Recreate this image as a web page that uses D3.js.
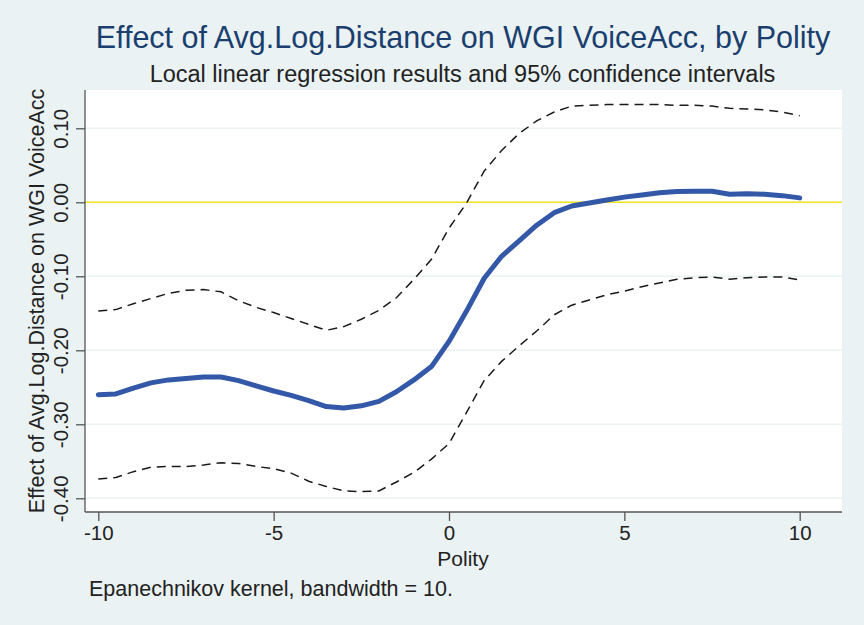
<!DOCTYPE html>
<html>
<head>
<meta charset="utf-8">
<script src="https://cdn.jsdelivr.net/npm/d3@7"></script>
<style>
  body { margin: 0; background: #eaf2f3; }
  text { font-family: "Liberation Sans", Arial, Helvetica, sans-serif; fill: #222; }
</style>
</head>
<body>
<div id="chart"></div>
<script>
// polity grid and local linear fits
var polity = [-10, -9.5, -9, -8.5, -8, -7.5, -7, -6.5, -6, -5.5, -5, -4.5, -4, -3.5, -3, -2.5, -2, -1.5, -1, -0.5,
              0, 0.5, 1, 1.5, 2, 2.5, 3, 3.5, 4, 4.5, 5, 5.5, 6, 6.5, 7, 7.5, 8, 8.5, 9, 9.5, 10];
var effect = [-0.260, -0.259, -0.251, -0.244, -0.240, -0.238, -0.236, -0.236, -0.241, -0.248, -0.255, -0.261, -0.268, -0.276, -0.278, -0.275, -0.269, -0.256, -0.240, -0.222,
              -0.188, -0.147, -0.103, -0.073, -0.052, -0.031, -0.014, -0.005, -0.001, 0.003, 0.007, 0.010, 0.013, 0.0145, 0.015, 0.015, 0.011, 0.0115, 0.011, 0.009, 0.006];
var upperCI = [-0.147, -0.145, -0.137, -0.130, -0.123, -0.119, -0.118, -0.121, -0.133, -0.142, -0.149, -0.157, -0.165, -0.173, -0.168, -0.158, -0.146, -0.129, -0.104, -0.077,
               -0.035, -0.001, 0.042, 0.070, 0.093, 0.110, 0.122, 0.130, 0.131, 0.132, 0.132, 0.132, 0.132, 0.131, 0.131, 0.130, 0.127, 0.126, 0.125, 0.122, 0.117];
var lowerCI = [-0.374, -0.372, -0.364, -0.358, -0.357, -0.357, -0.355, -0.352, -0.353, -0.357, -0.360, -0.366, -0.377, -0.384, -0.390, -0.391, -0.390, -0.378, -0.365, -0.347,
               -0.326, -0.284, -0.241, -0.215, -0.194, -0.174, -0.152, -0.139, -0.132, -0.125, -0.120, -0.114, -0.109, -0.104, -0.102, -0.101, -0.104, -0.102, -0.101, -0.101, -0.105];
var xTicks = [-10, -5, 0, 5, 10];
var yTicks = [-0.4, -0.3, -0.2, -0.1, 0, 0.1];

var svgWidth = 864, svgHeight = 625;
var plot = { left: 85, right: 842, top: 90, bottom: 512 };

var svg = d3.select("#chart").append("svg")
    .attr("width", svgWidth)
    .attr("height", svgHeight);

svg.append("rect")
    .attr("width", svgWidth).attr("height", svgHeight)
    .attr("fill", "#eaf2f3");

// plot region
svg.append("rect")
    .attr("x", plot.left).attr("y", plot.top)
    .attr("width", plot.right - plot.left)
    .attr("height", plot.bottom - plot.top)
    .attr("fill", "#ffffff");

var x = d3.scaleLinear().domain([-10, 10]).range([98.3, 799.7]);
var y = d3.scaleLinear().domain([-0.4, 0.1]).range([498.3, 128.3]);

// grid lines
svg.append("g").selectAll("line")
    .data(yTicks)
    .enter().append("line")
    .attr("x1", plot.left).attr("x2", plot.right)
    .attr("y1", d => y(d)).attr("y2", d => y(d))
    .attr("stroke", "#eaf2f3")
    .attr("stroke-width", 1.5);

// zero reference line
svg.append("line")
    .attr("x1", plot.left).attr("x2", plot.right)
    .attr("y1", y(0)).attr("y2", y(0))
    .attr("stroke", "#f2e41c")
    .attr("stroke-width", 1.5);

// axes
var leftAxis = d3.axisLeft(y).tickValues(yTicks).tickSize(9).tickPadding(5)
    .tickFormat(d => d.toFixed(2));
var bottomAxis = d3.axisBottom(x).tickValues(xTicks).tickSize(9).tickPadding(4)
    .tickFormat(d => String(d));

var gy = svg.append("g")
    .attr("transform", `translate(${plot.left},0)`)
    .call(leftAxis);
gy.select(".domain").remove();
gy.append("line")
    .attr("x1", 0).attr("x2", 0)
    .attr("y1", plot.top).attr("y2", plot.bottom)
    .attr("stroke", "#555").attr("stroke-width", 1.3);
gy.selectAll(".tick line").attr("stroke", "#555").attr("stroke-width", 1.3);
gy.selectAll(".tick text")
    .attr("x", null).attr("dy", null)
    .attr("transform", "translate(-17,0) rotate(-90)")
    .attr("text-anchor", "middle")
    .style("font-size", "20.5px")
    .attr("fill", "#222");

var gx = svg.append("g")
    .attr("transform", `translate(0,${plot.bottom})`)
    .call(bottomAxis);
gx.select(".domain").remove();
gx.append("line")
    .attr("x1", plot.left).attr("x2", plot.right)
    .attr("y1", 0).attr("y2", 0)
    .attr("stroke", "#555").attr("stroke-width", 1.3);
gx.selectAll(".tick line").attr("stroke", "#555").attr("stroke-width", 1.3);
gx.selectAll(".tick text")
    .style("font-size", "20.5px")
    .attr("fill", "#222");

// lines
var line = function(vals) {
    return d3.line()
        .x((d, i) => x(polity[i]))
        .y(d => y(d))(vals);
};

[upperCI, lowerCI].forEach(function(ci) {
    svg.append("path")
        .attr("d", line(ci))
        .attr("fill", "none")
        .attr("stroke", "#1a1a1a")
        .attr("stroke-width", 1.5)
        .attr("stroke-dasharray", "9,6");
});

svg.append("path")
    .attr("d", line(effect))
    .attr("fill", "none")
    .attr("stroke", "#3358a7")
    .attr("stroke-width", 5)
    .attr("stroke-linejoin", "round")
    .attr("stroke-linecap", "round");

// titles
svg.append("text")
    .attr("x", 463).attr("y", 48)
    .attr("text-anchor", "middle")
    .style("font-size", "30.5px")
    .style("fill", "#1a3f6f")
    .text("Effect of Avg.Log.Distance on WGI VoiceAcc, by Polity");

svg.append("text")
    .attr("x", 462.5).attr("y", 81.5)
    .attr("text-anchor", "middle")
    .style("font-size", "23.5px")
    .text("Local linear regression results and 95% confidence intervals");

svg.append("text")
    .attr("transform", `translate(44,${(plot.top + plot.bottom) / 2}) rotate(-90)`)
    .attr("text-anchor", "middle")
    .style("font-size", "21.5px")
    .text("Effect of Avg.Log.Distance on WGI VoiceAcc");

svg.append("text")
    .attr("x", x(0) + 14).attr("y", 566)
    .attr("text-anchor", "middle")
    .style("font-size", "21px")
    .text("Polity");

svg.append("text")
    .attr("x", 89).attr("y", 596)
    .style("font-size", "21.5px")
    .text("Epanechnikov kernel, bandwidth = 10.");
</script>
</body>
</html>
